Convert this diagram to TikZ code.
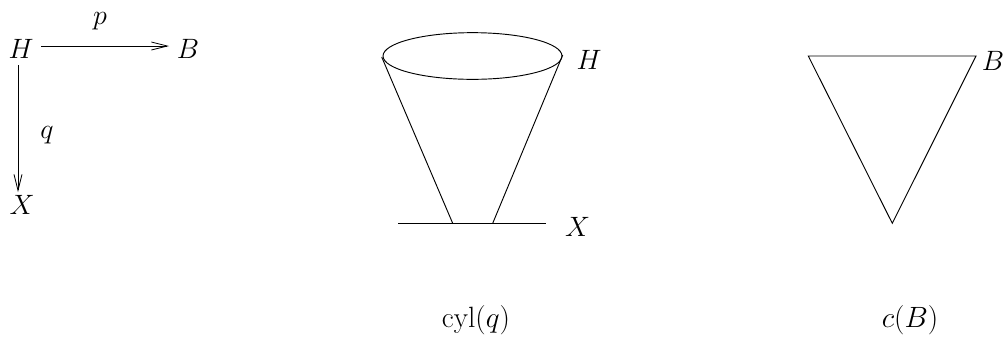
\documentclass[tikz,border=0pt]{standalone}
\usepackage{fix-cm}
\usetikzlibrary{arrows.meta,shapes.geometric}
\begin{document}
\begin{tikzpicture}[x=0.75pt,y=-0.75pt,
  lbl/.style={inner sep=0pt,font=\fontsize{21}{25}\selectfont},
  captxt/.style={inner sep=0pt,font=\fontsize{22}{26}\selectfont},
  arr/.style={-{Straight Barb[length=12pt,width=6pt]},line width=0.6pt},
  edge/.style={line width=0.7pt}]
\useasboundingbox (0,0) rectangle (1003,337);
% commutative square
\node[lbl] (H) at (21,49) {$H$};
\node[lbl] (B) at (188,49) {$B$};
\node[lbl] (X) at (22,205) {$X$};
\coordinate (hs) at (41,46);
\coordinate (he) at (169,46);
\coordinate (vs) at (18,65);
\coordinate (ve) at (18,192);
\draw[arr] (hs) -- (he);
\draw[arr] (vs) -- (ve);
\node[lbl] (p) at (100,21) {$p$};
\node[lbl] (q) at (47,135) {$q$};
% cylinder
\node[draw,ellipse,edge,minimum width=134.25pt,minimum height=35pt,inner sep=0pt] (ell) at (472.5,56) {};
\coordinate (cl1) at (381.7,57);
\coordinate (cl2) at (452.7,223.3);
\coordinate (cr1) at (562.7,55);
\coordinate (cr2) at (492.7,223.3);
\coordinate (b1) at (398.3,223.3);
\coordinate (b2) at (546,223.3);
\draw[edge] (cl1) -- (cl2);
\draw[edge] (cr1) -- (cr2);
\draw[edge] (b1) -- (b2);
\node[lbl] (H2) at (589,60) {$H$};
\node[lbl] (X2) at (577.5,227) {$X$};
\node[captxt] (cyl) at (476,320) {$\mathrm{cyl}(q)$};
% cone on B
\coordinate (t1) at (808.3,56);
\coordinate (t2) at (976,56);
\coordinate (t3) at (892.3,223.3);
\draw[edge] (t1) -- (t2) -- (t3) -- cycle;
\node[lbl] (B2) at (993,61) {$B$};
\node[captxt] (cB) at (910,320) {$c(B)$};
\end{tikzpicture}
\end{document}
